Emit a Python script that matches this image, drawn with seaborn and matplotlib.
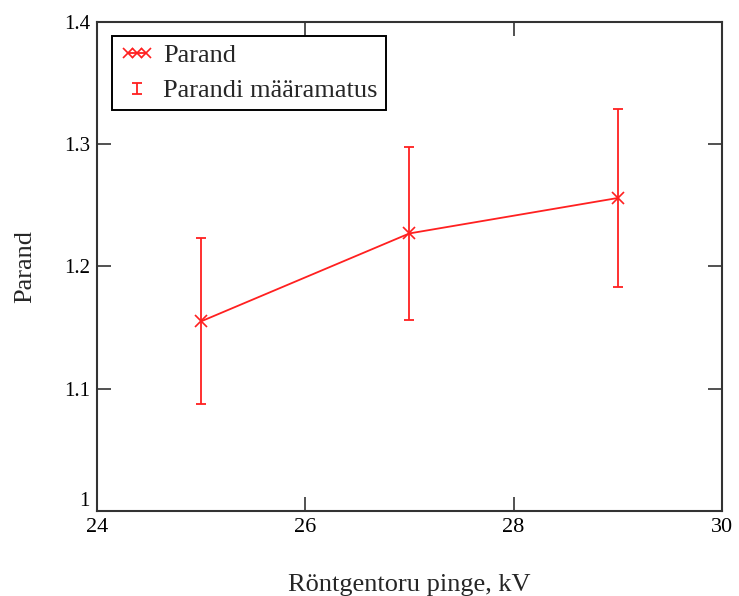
import matplotlib
matplotlib.use("Agg")
import matplotlib.pyplot as plt
import numpy as np
import pandas as pd
import seaborn as sns
from matplotlib.container import ErrorbarContainer
from matplotlib.legend_handler import HandlerErrorbar

# andmed
pinge = [25, 27, 29]
parand = [1.155, 1.227, 1.256]
maaramatus = [0.068, 0.071, 0.073]

df = pd.DataFrame({"pinge": pinge, "parand": parand})

sns.set_style("ticks")
plt.rcParams['font.family'] = ['Liberation Serif', 'DejaVu Serif']

fig = plt.figure(figsize=(7.39, 5.96), dpi=100)
ax = fig.add_axes([0.131, 0.143, 0.846, 0.820])

red = "#ff2020"
sns.lineplot(data=df, x="pinge", y="parand", ax=ax, color=red,
             marker="x", markersize=9, markeredgewidth=1.2,
             markeredgecolor=red, markerfacecolor=red, linewidth=1.3,
             label="Parand")
eb = ax.errorbar(pinge, parand, yerr=maaramatus, fmt="none", ecolor=red,
                 elinewidth=1.3, capsize=3.5, capthick=1.3,
                 label="Parandi määramatus")

ax.set_xlim(24, 30)
ax.set_ylim(1, 1.4)
ax.set_xticks([24, 26, 28, 30])
ax.set_xticklabels(["24", "26", "28", "30"])
ax.set_yticks([1, 1.1, 1.2, 1.3, 1.4])
ax.set_yticklabels(["1", "1.1", "1.2", "1.3", "1.4"])
ax.tick_params(direction="in", length=10, width=1.2, top=True, right=True,
               colors="#333333", labelcolor="black", pad=5)
ax.tick_params(axis="x", labelsize=16)
ax.tick_params(axis="y", labelsize=15)
ax.get_yticklabels()[0].set_verticalalignment("bottom")
for s in ax.spines.values():
    s.set_color("#333333")
    s.set_linewidth(1.5)

ax.set_xlabel("Röntgentoru pinge, kV", fontsize=19, labelpad=27)
ax.set_ylabel("Parand", fontsize=19, labelpad=20)

handles, labels = ax.get_legend_handles_labels()
leg = ax.legend(handles, labels, loc="upper left", bbox_to_anchor=(0.024, 0.972),
                numpoints=3, fontsize=19, frameon=True, fancybox=False,
                edgecolor="black", framealpha=1, handlelength=1.3,
                handletextpad=0.35, borderpad=0.3, borderaxespad=0,
                labelspacing=0.45, markerscale=0.8,
                handler_map={ErrorbarContainer: HandlerErrorbar(numpoints=1, xerr_size=0.2)})
leg.get_frame().set_linewidth(1.4)

fig.savefig("out.png", dpi=100)
